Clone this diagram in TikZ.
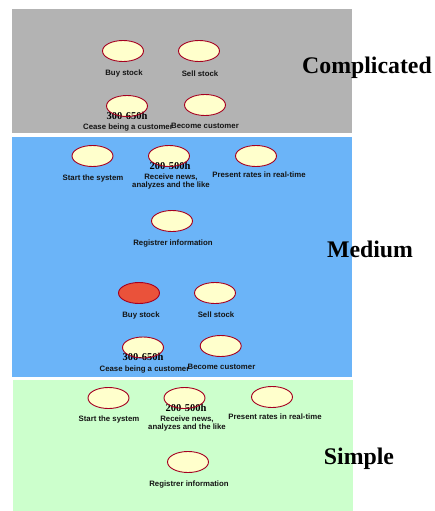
\documentclass[tikz,border=0pt]{standalone}
\usepackage{fontspec}
\setmainfont{Liberation Serif}
\newfontfamily\labelsans{Liberation Sans}
\usetikzlibrary{shapes.geometric}
\definecolor{bandgray}{RGB}{179,179,179}
\definecolor{bandblue}{RGB}{107,180,248}
\definecolor{bandgreen}{RGB}{204,255,204}
\definecolor{casefill}{RGB}{255,255,204}
\definecolor{caseline}{RGB}{165,0,33}
\definecolor{casehot}{RGB}{234,82,58}
\tikzset{
  usecase/.style={ellipse, fill=casefill, minimum width=41pt, minimum height=21pt, inner sep=0pt},
  hotcase/.style={usecase, fill=casehot},
  caserim/.style={ellipse, draw=caseline, line width=0.9pt, minimum width=41pt, minimum height=21pt, inner sep=0pt},
  lbl/.style={font=\labelsans\fontsize{7.8}{8}\selectfont\bfseries, text=black!92, inner sep=0pt, align=center},
  hours/.style={font=\fontsize{10.5}{11}\selectfont\bfseries, inner sep=0pt},
  level/.style={font=\fontsize{23.8}{26}\selectfont\bfseries, inner sep=0pt},
}
\begin{document}
\begin{tikzpicture}[x=1pt,y=-1pt]
\useasboundingbox (0,0) rectangle (434,511);
% complexity bands
\fill[bandgray]  (12,9)   rectangle (352,133);
\fill[bandblue]  (12,137) rectangle (352,377);
\fill[bandgreen] (13,380) rectangle (353,511);

% --- Complicated ---
\node[usecase] (cbuy)    at (123,51)  {};
\node[usecase] (csell)   at (199,51)  {};
\node[usecase] (ccease)  at (127,106) {};
\node[usecase] (cbecome) at (205,105) {};
\node[lbl] (cbuyl)    at (124,73)  {Buy stock};
\node[lbl] (csell l)  at (200,74)  {Sell stock};
\node[hours] (ch)     at (127,116) {300-650h};
\node[lbl] (cceasel)  at (128,127) {Cease being a customer};
\node[lbl] (cbecomel) at (205,126) {Become customer};
\node[level] (tc) at (367,67.5) {Complicated};

% --- Medium ---
\node[usecase] (mstart)  at (92.5,156) {};
\node[usecase] (mnews)   at (169,156)  {};
\node[usecase] (mrates)  at (256,156)  {};
\node[usecase] (mreg)    at (172,221)  {};
\node[hotcase] (mbuy)    at (139,293)  {};
\node[usecase] (msell)   at (215,293)  {};
\node[usecase] (mcease)  at (143,347.5) {};
\node[usecase] (mbecome) at (220.7,346) {};
\node[lbl] (mstartl) at (93,178)  {Start the system};
\node[hours] (mh1)   at (170,166) {200-500h};
\node[lbl] (mnewsl)  at (171,181.5) {Receive news,\\analyzes and the like};
\node[lbl] (mratesl) at (259,175) {Present rates in real-time};
\node[lbl] (mregl)   at (173,243) {Registrer information};
\node[lbl] (mbuyl)   at (141,315) {Buy stock};
\node[lbl] (msell l) at (216,315) {Sell stock};
\node[hours] (mh2)   at (143,357) {300-650h};
\node[lbl] (mceasel) at (144.5,369) {Cease being a customer};
\node[lbl] (mbecomel) at (221.5,367) {Become customer};
\node[level] (tm) at (370,249) {Medium};

% --- Simple ---
\node[usecase] (sstart) at (108.5,398) {};
\node[usecase] (snews)  at (184.5,398) {};
\node[usecase] (srates) at (272,397)   {};
\node[usecase] (sreg)   at (188,462)   {};
\node[lbl] (sstartl) at (109,419) {Start the system};
\node[hours] (sh)    at (186,407.7) {200-500h};
\node[lbl] (snewsl)  at (187,423) {Receive news,\\analyzes and the like};
\node[lbl] (sratesl) at (275,417) {Present rates in real-time};
\node[lbl] (sregl)   at (189,484) {Registrer information};
\node[level] (ts) at (359,459) {Simple};

% outlines of the use cases, on top of the hour labels
\foreach \c in {cbuy,csell,ccease,cbecome,mstart,mnews,mrates,mreg,mbuy,msell,mcease,mbecome,sstart,snews,srates,sreg}
  \node[caserim] at (\c.center) {};
\end{tikzpicture}
\end{document}
